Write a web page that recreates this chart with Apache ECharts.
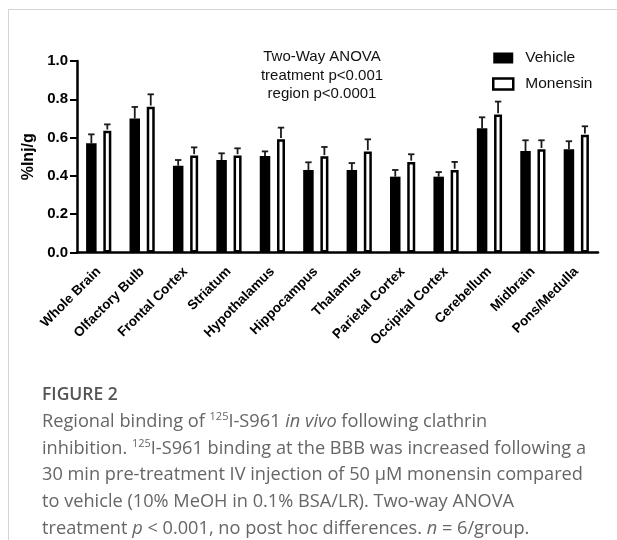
<!DOCTYPE html>
<html>
<head>
<meta charset="utf-8">
<script src="https://cdn.jsdelivr.net/npm/echarts@6/dist/echarts.min.js"></script>
<style>
  html, body { margin: 0; padding: 0; background: #fff; }
  #wrap { position: relative; width: 617px; height: 540px; overflow: hidden; }
  #frame { position: absolute; left: 8px; top: 9px; right: -2px; bottom: -2px; border-top: 1px solid #d4d4d4; border-left: 1px solid #d4d4d4; }
  #chart { position: absolute; left: 0; top: 0; width: 617px; height: 540px; }
  #caption { position: absolute; left: 42px; top: 380px; font-family: "Open Sans", "Noto Sans", sans-serif; color: #666; font-size: 18.2px; line-height: 26.8px; white-space: nowrap; }
  #caption .fig { color: #555; font-weight: 600; font-size: 17.5px; }
  #caption sup { font-size: 11px; vertical-align: 7px; line-height: 0; }
</style>
</head>
<body>
<div id="wrap">
  <div id="frame"></div>
  <div id="chart"></div>
  <div id="caption">
    <div class="fig">FIGURE 2</div>
    <div>Regional binding of <sup>125</sup>I-S961 <i>in vivo</i> following clathrin</div>
    <div>inhibition. <sup>125</sup>I-S961 binding at the BBB was increased following a</div>
    <div>30 min pre-treatment IV injection of 50 μM monensin compared</div>
    <div>to vehicle (10% MeOH in 0.1% BSA/LR). Two-way ANOVA</div>
    <div>treatment <i>p</i> &lt; 0.001, no post hoc differences. <i>n</i> = 6/group.</div>
  </div>
</div>
<script>
var categories = ['Whole Brain', 'Olfactory Bulb', 'Frontal Cortex', 'Striatum', 'Hypothalamus', 'Hippocampus', 'Thalamus', 'Parietal Cortex', 'Occipital Cortex', 'Cerebellum', 'Midbrain', 'Pons/Medulla'];
var vehicle = [0.570, 0.700, 0.453, 0.483, 0.504, 0.431, 0.431, 0.396, 0.396, 0.649, 0.530, 0.539];
var vehicleErr = [0.047, 0.060, 0.030, 0.035, 0.024, 0.040, 0.036, 0.035, 0.024, 0.057, 0.056, 0.042];
var monensin = [0.636, 0.761, 0.507, 0.507, 0.591, 0.502, 0.528, 0.473, 0.431, 0.720, 0.539, 0.615];
var monensinErr = [0.033, 0.065, 0.042, 0.037, 0.061, 0.049, 0.063, 0.040, 0.042, 0.068, 0.047, 0.044];
var yTicks = [0, 0.2, 0.4, 0.6, 0.8, 1.0];
var annotationLines = ['Two-Way ANOVA', 'treatment p<0.001', 'region p<0.0001'];

var FONT = '"Liberation Sans", Arial, sans-serif';
var BW_V = 10.5, BW_M = 8, BORDER_M = 2.5, GAP = 0.64;
// replicate ECharts bar layout offsets (pixels relative to category centre)
var widthSum = BW_V * (1 + GAP) + BW_M;
var offV = -widthSum / 2 + BW_V / 2;
var offM = -widthSum / 2 + BW_V * (1 + GAP) + BW_M / 2;

function errSeries(name, means, errs, off, top) {
  var data = means.map(function (m, i) { return [i, m, errs[i]]; });
  return {
    type: 'custom', name: name + ' err', silent: true, z: 5, clip: false,
    data: data,
    encode: { x: 0, y: 1 },
    renderItem: function (params, api) {
      var i = api.value(0), m = api.value(1), e = api.value(2);
      var p0 = api.coord([i, m]);
      var p1 = api.coord([i, m + e]);
      var x = p0[0] + off;
      var y0 = p0[1] - top;
      return {
        type: 'group',
        children: [
          { type: 'line', shape: { x1: x, y1: y0, x2: x, y2: p1[1] }, style: { stroke: '#1a1a1a', lineWidth: 1.8 } },
          { type: 'line', shape: { x1: x - 3.2, y1: p1[1], x2: x + 3.2, y2: p1[1] }, style: { stroke: '#1a1a1a', lineWidth: 1.8 } }
        ]
      };
    }
  };
}

var chart = echarts.init(document.getElementById('chart'), null, { renderer: 'canvas' });
chart.setOption({
  backgroundColor: 'transparent',
  animation: false,
  grid: { left: 77, right: 19, top: 61, bottom: 287.5, containLabel: false },
  legend: {
    orient: 'vertical', left: 492, top: 50, padding: 0, itemWidth: 20, itemHeight: 11, itemGap: 10,
    data: [
      { name: 'Vehicle', icon: 'rect', itemStyle: { color: '#000', borderWidth: 0 } },
      { name: 'Monensin', icon: 'rect', itemStyle: { color: '#fff', borderColor: '#000', borderWidth: 2.5 } }
    ],
    textStyle: { fontFamily: FONT, fontSize: 15.5, color: '#111', padding: [0, 0, 0, 7] }
  },
  graphic: [{
    type: 'text', x: 322, y: 48,
    style: { text: annotationLines.join('\n'), font: '15px ' + FONT, fill: '#111', lineHeight: 18.3, align: 'center', verticalAlign: 'top' }
  }],
  xAxis: {
    type: 'category', data: categories, boundaryGap: true,
    axisLine: { lineStyle: { color: '#000', width: 2.5 } },
    axisTick: { alignWithLabel: true, length: 8, lineStyle: { color: '#000', width: 2 } },
    axisLabel: { interval: 0, rotate: 45, margin: 17, fontFamily: FONT, fontSize: 13.5, fontWeight: 'bold', color: '#000' },
    splitLine: { show: false }
  },
  yAxis: {
    type: 'value', min: 0, max: 1, interval: 0.2,
    name: '%Inj/g', nameLocation: 'middle', nameGap: 36,
    nameTextStyle: { fontFamily: FONT, fontSize: 16, fontWeight: 'bold', color: '#000' },
    axisLine: { show: true, lineStyle: { color: '#000', width: 2.5 } },
    axisTick: { show: true, length: 7, lineStyle: { color: '#000', width: 2 } },
    axisLabel: { margin: 9, fontFamily: FONT, fontSize: 15, fontWeight: 'bold', color: '#000',
      formatter: function (v) { return yTicks.indexOf(v) >= 0 ? v.toFixed(1) : ''; } },
    splitLine: { show: false }
  },
  series: [
    { name: 'Vehicle', type: 'bar', data: vehicle, barWidth: BW_V, barGap: (GAP * 100) + '%',
      itemStyle: { color: '#000' }, z: 3 },
    { name: 'Monensin', type: 'bar', data: monensin, barWidth: BW_M,
      itemStyle: { color: '#fff', borderColor: '#000', borderWidth: BORDER_M }, z: 3 },
    errSeries('Vehicle', vehicle, vehicleErr, offV, 0),
    errSeries('Monensin', monensin, monensinErr, offM, BORDER_M / 2)
  ]
});
</script>
</body>
</html>
